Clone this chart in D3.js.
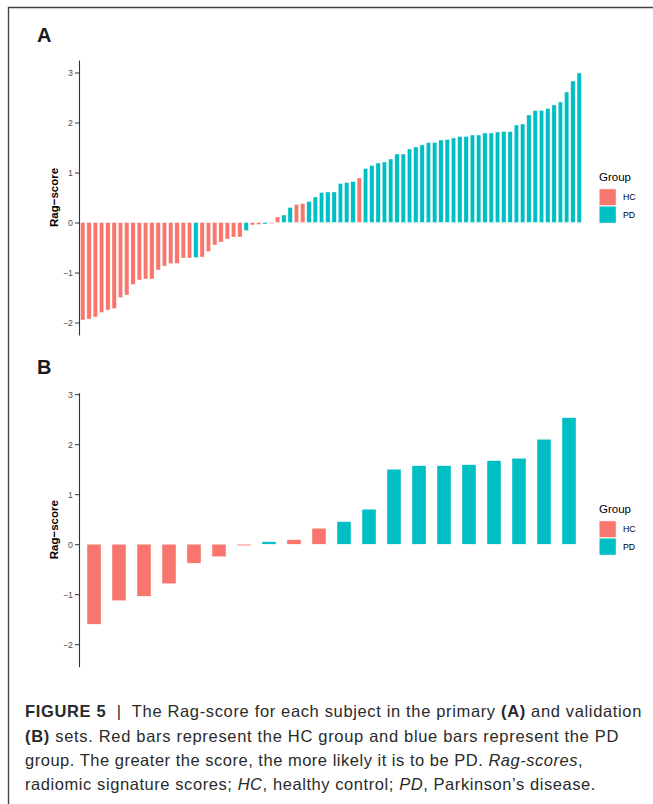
<!DOCTYPE html>
<html>
<head>
<meta charset="utf-8">
<title>Rag-score bars</title>
<script src="https://cdn.jsdelivr.net/npm/d3@7"></script>
<style>
  body { margin: 0; background: #fff; }
  svg text { font-family: "Liberation Sans", Arial, Helvetica, sans-serif; }
</style>
</head>
<body>
<script>
  // Rag-score per subject, primary set (A), sorted
  const scoresA = [
    -1.95, -1.93, -1.89, -1.80, -1.75, -1.72, -1.50, -1.45, -1.24, -1.15,
    -1.13, -1.13, -0.95, -0.87, -0.82, -0.82, -0.71, -0.71, -0.70, -0.69,
    -0.58, -0.45, -0.39, -0.33, -0.29, -0.29, -0.16, -0.05, -0.04, -0.03,
    -0.02, 0.11, 0.15, 0.30, 0.36, 0.38, 0.42, 0.51, 0.60, 0.61,
    0.61, 0.78, 0.80, 0.82, 0.89, 1.08, 1.14, 1.19, 1.21, 1.27,
    1.37, 1.37, 1.47, 1.51, 1.55, 1.60, 1.60, 1.65, 1.66, 1.69,
    1.72, 1.72, 1.75, 1.75, 1.79, 1.79, 1.81, 1.82, 1.82, 1.95,
    1.97, 2.15, 2.24, 2.24, 2.28, 2.35, 2.41, 2.61, 2.83, 2.99
  ];
  const groupsA = [
    "HC", "HC", "HC", "HC", "HC", "HC", "HC", "HC", "HC", "HC",
    "HC", "HC", "HC", "HC", "HC", "HC", "HC", "HC", "PD", "HC",
    "HC", "HC", "HC", "HC", "HC", "HC", "PD", "HC", "HC", "PD",
    "HC", "HC", "PD", "PD", "HC", "HC", "PD", "PD", "PD", "PD",
    "PD", "PD", "PD", "PD", "HC", "PD", "PD", "PD", "PD", "PD",
    "PD", "PD", "PD", "PD", "PD", "PD", "PD", "PD", "PD", "PD",
    "PD", "PD", "PD", "PD", "PD", "PD", "PD", "PD", "PD", "PD",
    "PD", "PD", "PD", "PD", "PD", "PD", "PD", "PD", "PD", "PD"
  ];

  // validation set (B)
  const scoresB = [
    -1.60, -1.13, -1.04, -0.79, -0.38, -0.25, -0.03, 0.05, 0.09, 0.32,
    0.45, 0.70, 1.50, 1.57, 1.57, 1.59, 1.67, 1.72, 2.10, 2.53
  ];
  const groupsB = [
    "HC", "HC", "HC", "HC", "HC", "HC", "HC", "PD", "HC", "HC",
    "PD", "PD", "PD", "PD", "PD", "PD", "PD", "PD", "PD", "PD"
  ];

  const yTicks = [-2, -1, 0, 1, 2, 3];
  const groupNames = ["HC", "PD"];
  const groupColors = ["#F8766D", "#00BFC4"];

  // caption text, split in lines: [text, style]
  const captionLines = [
    [["FIGURE 5", "b"], ["  |  ", "n"], ["The Rag-score for each subject in the primary ", "n"], ["(A)", "b"], [" and validation", "n"]],
    [["(B)", "b"], [" sets. Red bars represent the HC group and blue bars represent the PD", "n"]],
    [["group. The greater the score, the more likely it is to be PD. ", "n"], ["Rag-scores", "i"], [",", "n"]],
    [["radiomic signature scores; ", "n"], ["HC", "i"], [", healthy control; ", "n"], ["PD", "i"], [", Parkinson\u2019s disease.", "n"]]
  ];
  const captionWidths = [617, 594, 558, 571];

  const w = 653;
  const h = 804;

  const svg = d3.select("body")
    .append("svg")
    .attr("width", w)
    .attr("height", h);

  // Ramme (top + venstre)
  svg.append("path")
    .attr("d", "M8.5,804V7.5H653")
    .attr("fill", "none")
    .attr("stroke", "#444")
    .attr("stroke-width", 1.4);

  const color = d3.scaleOrdinal().domain(groupNames).range(groupColors);

  function drawPanel(opt) {
    const g = svg.append("g");

    const x = d3.scaleBand()
      .domain(d3.range(opt.scores.length))
      .range(opt.xRange)
      .paddingInner(0)
      .paddingOuter(0.1);

    const y = d3.scaleLinear()
      .domain(opt.yDomain)
      .range(opt.yRange);

    const bw = x.bandwidth() * opt.barFrac;

    g.selectAll("rect.bar")
      .data(opt.scores)
      .enter()
      .append("rect")
      .attr("class", "bar")
      .attr("x", (d, i) => x(i) + (x.bandwidth() - bw) / 2)
      .attr("y", d => y(Math.max(0, d)))
      .attr("width", bw)
      .attr("height", d => Math.abs(y(d) - y(0)))
      .attr("fill", (d, i) => color(opt.groups[i]))
      .attr("stroke", "#fff")
      .attr("stroke-width", 0.4);

    // y-akse
    const axis = g.append("g")
      .attr("transform", "translate(" + opt.xRange[0] + ",0)")
      .call(d3.axisLeft(y).tickValues(yTicks).tickFormat(d3.format("d"))
        .tickSize(4).tickSizeOuter(0).tickPadding(2));
    axis.select(".domain").attr("stroke", "#333").attr("stroke-width", 1.1);
    axis.selectAll(".tick line").attr("stroke", "#333").attr("stroke-width", 1);
    axis.selectAll(".tick text")
      .attr("fill", "#4D4D4D")
      .attr("font-size", "8.8px")
      .style("font-family", "'Liberation Sans', Arial, sans-serif");

    const cy = (opt.yRange[0] + opt.yRange[1]) / 2;
    g.append("text")
      .attr("transform", "translate(57.5," + cy + ") rotate(-90)")
      .attr("text-anchor", "middle")
      .attr("font-size", "11.5px")
      .attr("font-weight", "bold")
      .attr("fill", "#000")
      .text("Rag\u2212score");

    // panel-bogstav
    g.append("text")
      .attr("x", 37)
      .attr("y", opt.labelY)
      .attr("font-size", "20px")
      .attr("font-weight", "bold")
      .attr("fill", "#1a1a1a")
      .text(opt.label);

    // legend
    const lg = g.append("g").attr("transform", "translate(599," + opt.legendY + ")");
    lg.append("text")
      .attr("x", 0)
      .attr("y", 0)
      .attr("font-size", "11.5px")
      .attr("fill", "#000")
      .text("Group");
    const key = 17.3;
    lg.selectAll("rect.key")
      .data(groupNames)
      .enter()
      .append("rect")
      .attr("class", "key")
      .attr("x", 0)
      .attr("y", (d, i) => 8 + i * key)
      .attr("width", key)
      .attr("height", key)
      .attr("fill", d => color(d))
      .attr("stroke", "#fff")
      .attr("stroke-width", 1);
    lg.selectAll("text.keylabel")
      .data(groupNames)
      .enter()
      .append("text")
      .attr("class", "keylabel")
      .attr("x", 24)
      .attr("y", (d, i) => 8 + i * key + key / 2 + 3)
      .attr("font-size", "8.8px")
      .attr("fill", "#000")
      .text(d => d);
  }

  drawPanel({
    label: "A", scores: scoresA, groups: groupsA,
    xRange: [79, 583], yRange: [335, 60], yDomain: [-2.25, 3.25],
    barFrac: 0.7, labelY: 42.3, legendY: 180.7
  });

  drawPanel({
    label: "B", scores: scoresB, groups: groupsB,
    xRange: [79, 584], yRange: [666.7, 392.7], yDomain: [-2.45, 3.03],
    barFrac: 0.56, labelY: 374.3, legendY: 512.7
  });

  // Figurtekst
  const lineY = [717, 741.5, 766, 790.3];
  captionLines.forEach(function (segs, li) {
    const t = svg.append("text")
      .attr("x", 25)
      .attr("y", lineY[li])
      .attr("font-size", "16.5px")
      .attr("fill", "#2a2a2a");
    segs.forEach(function (s) {
      t.append("tspan")
        .attr("font-weight", s[1] === "b" ? "bold" : "normal")
        .attr("font-style", s[1] === "i" ? "italic" : "normal")
        .style("white-space", "pre")
        .text(s[0]);
    });
    t.attr("xml:space", "preserve");
    const natural = t.node().getComputedTextLength();
    const n = segs.reduce((a, s) => a + s[0].length, 0);
    t.attr("letter-spacing", ((captionWidths[li] - natural) / n) + "px");
  });
</script>
</body>
</html>
